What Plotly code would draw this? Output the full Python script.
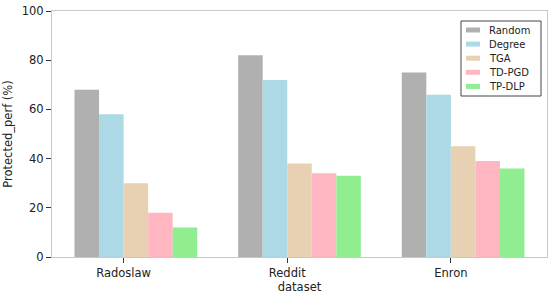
import plotly.graph_objects as go

datasets = ['Radoslaw', 'Reddit', 'Enron']
methods = ['Random', 'Degree', 'TGA', 'TD-PGD', 'TP-DLP']
random_vals = [68, 82, 75]
degree_vals = [58, 72, 66]
tga_vals = [30, 38, 45]
tdpgd_vals = [18, 34, 39]
tpdlp_vals = [12, 33, 36]
colors = ['#b0b0b0', '#add8e6', '#e8d0b2', '#ffb6c1', '#90ee90']

FONT = 'DejaVu Sans'
BAR_W = 0.15
FIG_W, FIG_H = 550, 296
M_L, M_R, M_T, M_B = 52, 3, 11, 39
PLOT_W = FIG_W - M_L - M_R
PLOT_H = FIG_H - M_T - M_B


def px_x(px):
    return (px - M_L) / PLOT_W


def px_y(py):
    return (FIG_H - M_B - py) / PLOT_H


def add_legend(figure):
    # hand-made legend so the rows can be packed as tight as the original
    figure.add_shape(type='rect', xref='paper', yref='paper',
                     x0=px_x(461), x1=px_x(541), y0=px_y(96), y1=px_y(21),
                     line=dict(color='#444444', width=1), fillcolor='white')
    for i, name in enumerate(methods):
        yc = 30 + i * 14.1
        figure.add_shape(type='rect', xref='paper', yref='paper',
                         x0=px_x(466), x1=px_x(480), y0=px_y(yc + 2.5), y1=px_y(yc - 2.5),
                         line=dict(width=0), fillcolor=colors[i])
        figure.add_annotation(xref='paper', yref='paper', x=px_x(487), y=px_y(yc),
                              xanchor='left', yanchor='middle', showarrow=False,
                              text=name, font=dict(family=FONT, size=10, color='#222222'))


def make_figure():
    series = [random_vals, degree_vals, tga_vals, tdpgd_vals, tpdlp_vals]
    figure = go.Figure()
    for i, (name, vals) in enumerate(zip(methods, series)):
        figure.add_trace(go.Bar(
            x=datasets,
            y=vals,
            name=name,
            width=BAR_W,
            offset=(i - 2) * BAR_W,
            showlegend=False,
            marker=dict(color=colors[i], line=dict(width=0))))
    axis_common = dict(
        showline=True,
        linecolor='#c8c8c8',
        linewidth=1,
        mirror=True,
        showgrid=False,
        zeroline=False,
        automargin=False,
        ticks='outside',
        ticklen=5,
        tickcolor='#333333',
        tickfont=dict(family=FONT, size=11.5, color='#222222'),
    )
    figure.update_layout(
        width=FIG_W,
        height=FIG_H,
        margin=dict(l=M_L, r=M_R, t=M_T, b=M_B),
        plot_bgcolor='white',
        paper_bgcolor='white',
        barmode='overlay',
        showlegend=False,
        font=dict(family=FONT, size=11.5, color='#222222'),
        xaxis=dict(axis_common, range=[-0.4375, 2.5875],
                   title=dict(text='dataset', standoff=0,
                              font=dict(family=FONT, size=11.5))),
        yaxis=dict(axis_common, range=[0, 100], tickvals=[0, 20, 40, 60, 80, 100],
                   title=dict(text='Protected_perf (%)', standoff=6,
                              font=dict(family=FONT, size=11.5))),
    )
    add_legend(figure)
    return figure


def main():
    fig = make_figure()
    # drop the default 8px body margin so the figure fills the window exactly
    fig.write_html('out.html', config={'displayModeBar': False},
                   post_script="document.body.style.margin='0';")


if __name__ == '__main__':
    main()
